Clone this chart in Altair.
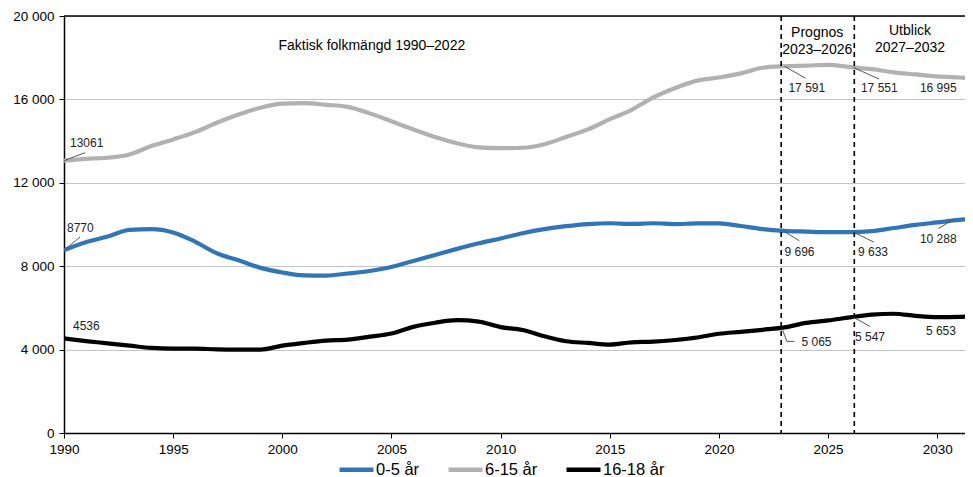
import altair as alt
import pandas as pd

# ---------------- data ----------------
years = list(range(1990, 2033))

age_0_5 = [8770, 9150, 9420, 9740, 9780, 9620, 9180, 8620, 8280, 7920,
           7700, 7560, 7550, 7650, 7770, 7960, 8250, 8540, 8830, 9100,
           9330, 9580, 9780, 9920, 10020, 10060, 10030, 10060, 10020, 10050,
           10050, 9930, 9780, 9696, 9660, 9630, 9633, 9680, 9830, 9980,
           10100, 10220, 10288]

age_6_15 = [13061, 13150, 13200, 13360, 13760, 14080, 14430, 14880, 15280, 15600,
            15800, 15820, 15740, 15640, 15330, 14950, 14560, 14200, 13900, 13700,
            13660, 13680, 13850, 14200, 14560, 15050, 15500, 16100, 16550, 16900,
            17050, 17250, 17520, 17591, 17620, 17660, 17551, 17450, 17300, 17200,
            17100, 17050, 16995]

age_16_18 = [4536, 4410, 4300, 4190, 4080, 4050, 4050, 4010, 4000, 4000,
             4190, 4320, 4430, 4480, 4620, 4770, 5090, 5290, 5410, 5340,
             5080, 4940, 4640, 4400, 4320, 4240, 4350, 4380, 4460, 4580,
             4760, 4850, 4950, 5065, 5280, 5400, 5547, 5680, 5720, 5620,
             5560, 5570, 5653]

series_names = ["0-5 år", "6-15 år", "16-18 år"]
series_values = [age_0_5, age_6_15, age_16_18]
series_colors = ["#2F75B8", "#B3B0B0", "#000000"]

period_breaks = [2022.85, 2026.2]
y_ticks = [0, 4000, 8000, 12000, 16000, 20000]
x_ticks = [1990, 1995, 2000, 2005, 2010, 2015, 2020, 2025, 2030]
x_domain = [1990, 2031.27]

FONT = "Liberation Sans"
W, H = 901, 417

rows = []
for name, vals in zip(series_names, series_values):
    for y, v in zip(years, vals):
        rows.append({"year": y, "value": v, "series": name})
df = pd.DataFrame(rows)

XS = alt.Scale(domain=x_domain, nice=False, zero=False)
YS = alt.Scale(domain=[0, 20000], nice=False)

x_enc = alt.X("year:Q", scale=XS,
              axis=alt.Axis(values=x_ticks, format="d", title=None, grid=False,
                            labelFont=FONT, labelFontSize=13.5, labelColor="#000",
                            tickColor="#000", tickSize=5, domainColor="#000",
                            domainWidth=1.5, labelPadding=4, labelFlush=False))
y_enc = alt.Y("value:Q", scale=YS,
              axis=alt.Axis(values=y_ticks, title=None, grid=True, gridColor="#C4C4C4",
                            gridWidth=1.2,
                            labelExpr="replace(format(datum.value, ','), ',', ' ')",
                            labelFont=FONT, labelFontSize=13.5, labelColor="#000",
                            tickColor="#000", tickSize=5, domainColor="#000",
                            domainWidth=1.5, labelPadding=5))

lines = alt.Chart(df).mark_line(strokeWidth=4.2, interpolate="monotone", clip=True).encode(
    x=x_enc,
    y=y_enc,
    color=alt.Color("series:N",
                    scale=alt.Scale(domain=series_names, range=series_colors),
                    sort=series_names,
                    legend=alt.Legend(orient="none", legendX=273, legendY=434,
                                      direction="horizontal", title=None,
                                      symbolType="stroke", symbolSize=1156,
                                      symbolStrokeWidth=4.5, labelFont=FONT,
                                      labelFontSize=16.5, labelColor="#000",
                                      labelOffset=0, columnPadding=19, padding=0)),
    detail="series:N",
)

top_rule = alt.Chart(pd.DataFrame({"v": [y_ticks[-1]]})).mark_rule(
    color="#000", strokeWidth=1.5).encode(y=alt.Y("v:Q", scale=YS))

breaks = alt.Chart(pd.DataFrame({"year": period_breaks})).mark_rule(
    color="#000", strokeWidth=1.6, strokeDash=[5, 4]).encode(
    x=alt.X("year:Q", scale=XS))


def title_layer(text, year, ypx):
    d = pd.DataFrame({"year": [year], "text": [text]})
    return alt.Chart(d).mark_text(font=FONT, fontSize=14, color="#000",
                                  align="center", baseline="middle").encode(
        x=alt.X("year:Q", scale=XS), y=alt.value(ypx), text="text:N")


titles = [
    title_layer("Faktisk folkmängd 1990–2022", 2004.1, 30),
    title_layer("Prognos", 2024.5, 17),
    title_layer("2023–2026", 2024.5, 34),
    title_layer("Utblick", 2028.75, 15),
    title_layer("2027–2032", 2028.75, 32),
]


def fmt(v, space=True):
    s = f"{v:,}"
    return s.replace(",", " ") if space else s.replace(",", "")


def value_of(series, year):
    return series_values[series_names.index(series)][years.index(year)]


LABEL_COLOR = "#222"


def label_layer(series, year, dx, dy, space=True):
    v = value_of(series, year)
    d = pd.DataFrame({"year": [year], "value": [v], "text": [fmt(v, space)]})
    return alt.Chart(d).mark_text(font=FONT, fontSize=12, color=LABEL_COLOR,
                                  align="left", baseline="middle", dx=dx, dy=dy,
                                  clip=False).encode(
        x=alt.X("year:Q", scale=XS), y=alt.Y("value:Q", scale=YS), text="text:N")


def leader(series, year, x0, y0, x1, y1):
    v = value_of(series, year)
    d = pd.DataFrame({"year": [year], "value": [v]})
    return alt.Chart(d).mark_rule(color="#555", strokeWidth=1, clip=True,
                                  xOffset=x0, yOffset=y0, x2Offset=x1, y2Offset=y1).encode(
        x=alt.X("year:Q", scale=XS), y=alt.Y("value:Q", scale=YS),
        x2="year:Q", y2="value:Q")


labels = [
    label_layer("6-15 år", 1990, 6, -17.5, space=False),
    label_layer("0-5 år", 1990, 3, -22, space=False),
    label_layer("16-18 år", 1990, 9, -12, space=False),
    label_layer("6-15 år", 2023, 4, 22),
    label_layer("6-15 år", 2026, 11, 21),
    label_layer("6-15 år", 2032, -61, 9),
    label_layer("0-5 år", 2023, 0, 21),
    label_layer("0-5 år", 2026, 8, 19.5),
    label_layer("0-5 år", 2032, -61, 21),
    label_layer("16-18 år", 2023, 17, 15),
    label_layer("16-18 år", 2026, 5, 20),
    label_layer("16-18 år", 2032, -55, 15.5),
]

leaders = [
    leader("6-15 år", 1990, 0, 0, 21, -8),
    leader("0-5 år", 1990, 0, 0, 16, -13),
    leader("6-15 år", 2023, 0, 0, 21, 12),
    leader("6-15 år", 2026, 3.5, 0.5, 29, 12),
    leader("0-5 år", 2023, -1, 0, 15, 10),
    leader("0-5 år", 2026, 3.5, 0, 24, 10),
    leader("0-5 år", 2032, -42.5, 10, -26, 0),
    leader("16-18 år", 2023, -2.5, 1, 2.5, 14),
    leader("16-18 år", 2023, 2.5, 14, 10, 14),
    leader("16-18 år", 2026, 3.5, 0, 20, 9),
]

chart = alt.layer(
    top_rule, lines, breaks, *titles, *leaders, *labels
).properties(
    width=W, height=H,
    autosize=alt.AutoSizeParams(type="none"),
    padding={"left": 56, "top": 8, "right": 0, "bottom": 44},
).configure_view(stroke=None).configure(background="white")

chart.save("out.html", embed_options={"renderer": "svg", "actions": False})
